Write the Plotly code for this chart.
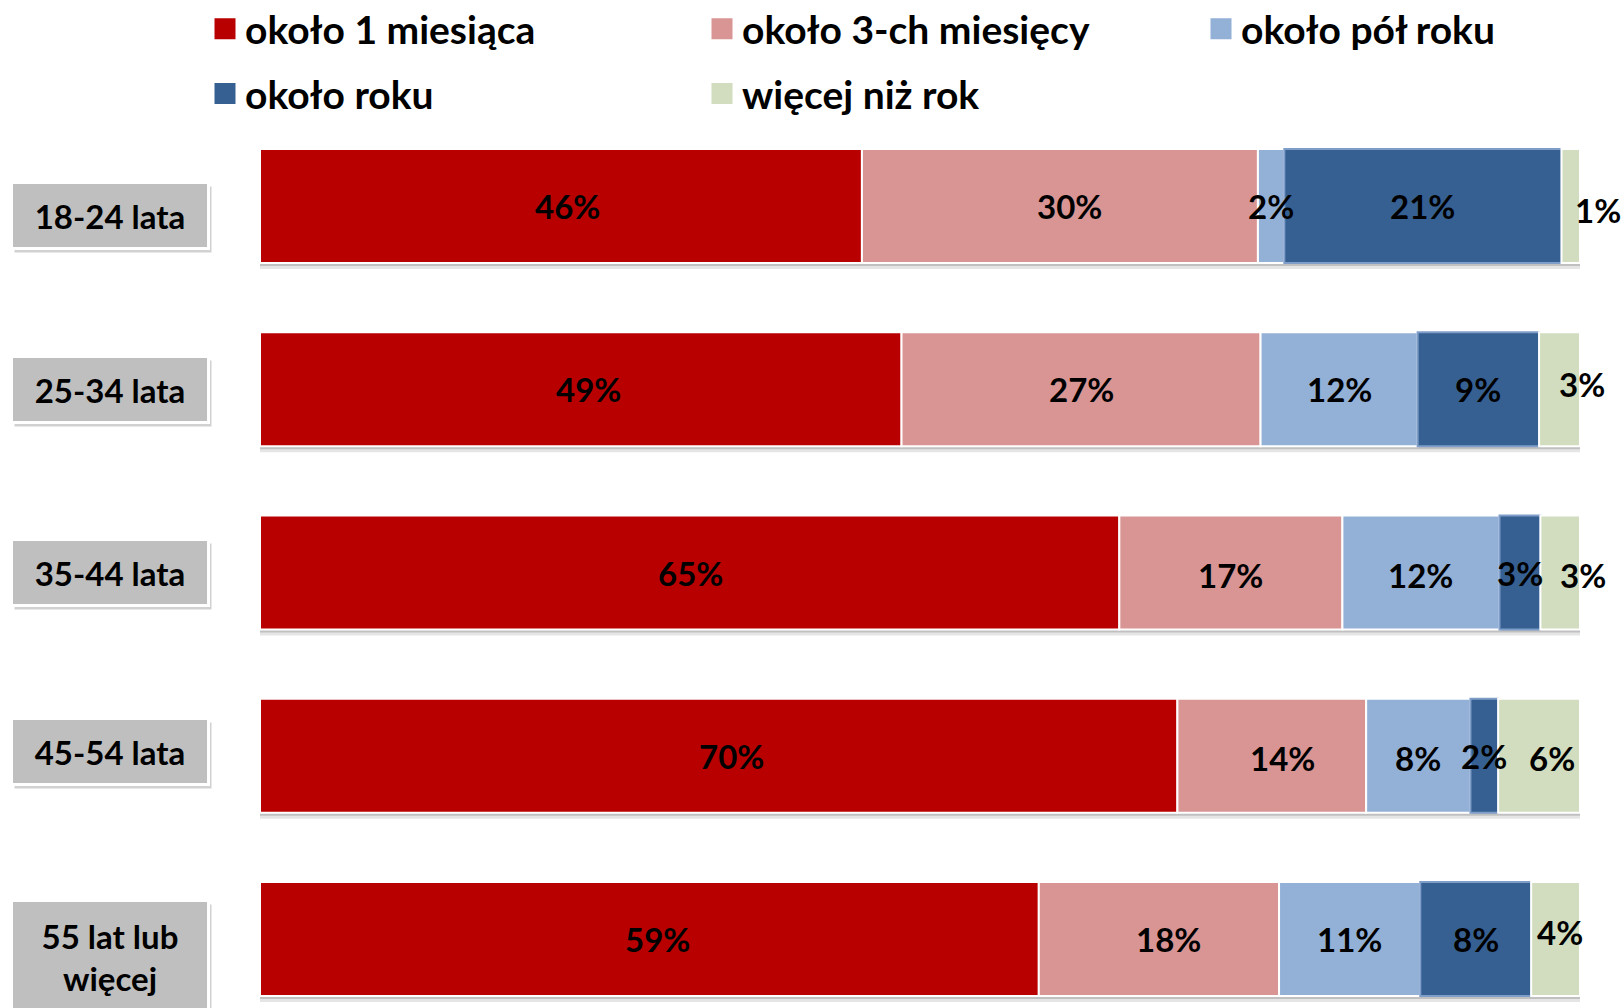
import numpy as np
import plotly.graph_objects as go

# grupy wiekowe (od góry)
age_groups = ["18-24 lata", "25-34 lata", "35-44 lata", "45-54 lata", "55 lat lub<br>więcej"]

series_names = ["około 1 miesiąca", "około 3-ch miesięcy", "około pół roku", "około roku", "więcej niż rok"]

# udziały w %
one_month = [45.6, 48.6, 65.1, 69.5, 59.0]
three_months = [30.0, 27.2, 16.9, 14.3, 18.2]
half_year = [2.0, 11.9, 11.9, 7.9, 10.7]
one_year = [21.0, 9.2, 3.1, 2.1, 8.4]
over_year = [1.4, 3.1, 3.0, 6.2, 3.7]

values = [one_month, three_months, half_year, one_year, over_year]
colors = ["#B90000", "#D99594", "#93B0D7", "#366092", "#D1DDBE"]
edge_colors = ["white", "white", "white", "#7F9DC9", "white"]

# ręczne przesunięcia etykiet (px), jak w oryginale
label_dx = [
    [7, 8, 1, 13, 8],
    [10, 0, 0, 11, 10],
    [0, 0, 0, 0, 0],
    [0, 0, 0, 0, 0],
    [27, 22, 23, 13, 4],
]
label_dy = [
    [0, 0, 0, 0, 0],
    [0, 0, -2, -2, 0],
    [0, 0, -2, -2, 0],
    [0, 0, 0, 0, 0],
    [-4, 5, -2, -2, 7],
]
box_yshift = [-9, 0, 0, 4, -18]

# kolumny legendy: która legenda dla której serii
legend_of = ["legend", "legend2", "legend3", "legend", "legend2"]

FONT = "Lato, 'Open Sans', sans-serif"
W, H = 1624, 1008
ML, MR, MT, MB = 260, 44, 110, 0
PW = W - ML - MR
PH = H - MT - MB
PX_PER_ROW = PH / 4.9
BAR_W = 114 / PX_PER_ROW

vals = np.array(values)
bases = np.vstack([np.zeros(vals.shape[1]), np.cumsum(vals, axis=0)[:-1]])
totals = vals.sum(axis=0)

fig = go.Figure()

# cień pod paskami
for dy, alpha in [(6, 0.10), (3, 0.16)]:
    fig.add_trace(go.Bar(
        y=age_groups, x=totals, base=0, orientation="h",
        width=BAR_W, offset=-BAR_W / 2 + dy / PX_PER_ROW,
        marker=dict(color=f"rgba(0,0,0,{alpha})", line=dict(width=0)),
        showlegend=False, hoverinfo="skip",
    ))

for i, name in enumerate(series_names):
    fig.add_trace(go.Bar(
        y=age_groups, x=values[i], base=bases[i], orientation="h",
        width=BAR_W, offset=-BAR_W / 2,
        marker=dict(color=colors[i], line=dict(color=edge_colors[i], width=2)),
        name=name, showlegend=False,
    ))

# wpisy legendy (większe kwadraty)
for i, name in enumerate(series_names):
    fig.add_trace(go.Scatter(
        x=[None], y=[None], mode="markers", name=f"<b>{name}</b>",
        marker=dict(symbol="square", size=16, color=colors[i],
                    line=dict(color=colors[i], width=5)),
        legend=legend_of[i], legendgroup=f"g{i}",
    ))

annotations = []
# etykiety procentowe
for i in range(len(series_names)):
    for j, g in enumerate(age_groups):
        annotations.append(dict(
            x=bases[i][j] + values[i][j] / 2, y=g, xref="x", yref="y",
            text=f"<b>{values[i][j]:.0f}%</b>", showarrow=False,
            xshift=label_dx[i][j], yshift=label_dy[i][j],
            font=dict(family=FONT, size=33, color="black"),
        ))

# szare etykiety kategorii
box_x = (110 - ML) / PW
for j, g in enumerate(age_groups):
    h = 110 if "<br>" in g else 63
    annotations.append(dict(
        x=box_x, y=g, xref="paper", yref="y", text=" ", showarrow=False,
        xanchor="center", yanchor="middle",
        xshift=3, yshift=box_yshift[j] - 4, width=194, height=h, borderpad=0,
        bgcolor="rgba(0,0,0,0.18)", borderwidth=3, bordercolor="rgba(0,0,0,0)",
    ))
    annotations.append(dict(
        x=box_x, y=g, xref="paper", yref="y", text=f"<b>{g}</b>", showarrow=False,
        xanchor="center", yanchor="middle",
        yshift=box_yshift[j], width=194, height=h, borderpad=0,
        bgcolor="#BFBFBF", borderwidth=3, bordercolor="white",
        font=dict(family=FONT, size=33, color="black"),
    ))

# legenda nad wykresem
legend_common = dict(
    orientation="v", xref="container", yref="paper", xanchor="left", yanchor="top",
    itemwidth=30, tracegroupgap=11, y=1 + (MT + 3) / PH,
    font=dict(family=FONT, size=39, color="black"), bgcolor="rgba(0,0,0,0)",
    itemclick=False, itemdoubleclick=False,
)

fig.update_layout(
    width=W, height=H,
    margin=dict(l=ML, r=MR, t=MT, b=MB, autoexpand=False),
    barmode="overlay",
    paper_bgcolor="white", plot_bgcolor="rgba(0,0,0,0)",
    xaxis=dict(range=[0, 100], visible=False, fixedrange=True),
    yaxis=dict(type="category", categoryorder="array", categoryarray=age_groups,
               range=[4.9 - 0.524, -0.524], visible=False, fixedrange=True),
    legend=dict(x=205 / W, **legend_common),
    legend2=dict(x=702 / W, **legend_common),
    legend3=dict(x=1201 / W, **legend_common),
    annotations=annotations,
    showlegend=True,
)

# bez domyślnego marginesu strony, żeby wykres zaczynał się w (0, 0)
fig.write_html("out.html", config={"displayModeBar": False},
               post_script="document.body.style.margin = '0';")
